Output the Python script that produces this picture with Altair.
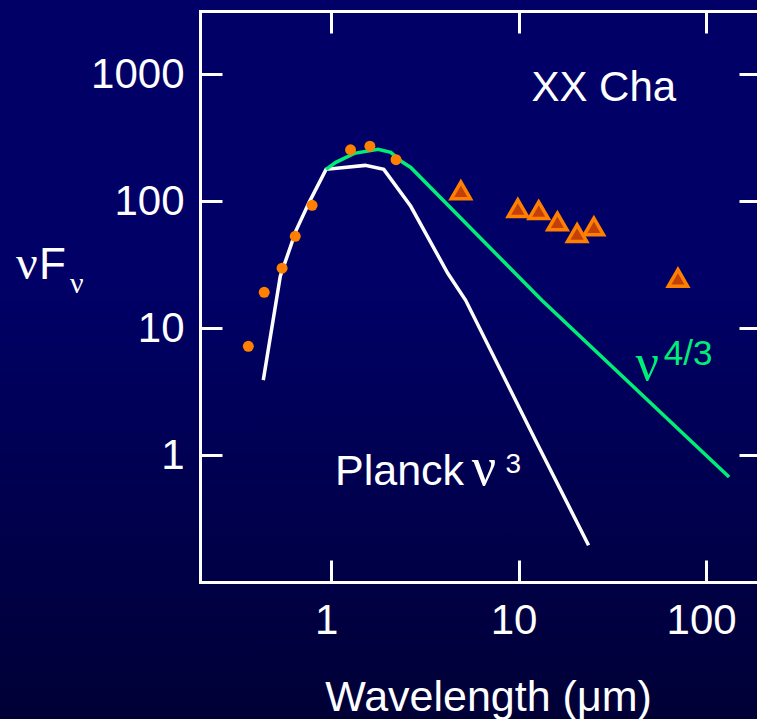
import altair as alt
import pandas as pd

# ---- data ----
dot_wl = [0.362, 0.44, 0.548, 0.644, 0.792, 1.27, 1.61, 2.22]
dot_flux = [7.2, 19.2, 29.7, 53, 93, 255, 272, 213]

tri_wl = [4.92, 9.9, 12.8, 16.1, 20.5, 25.2, 70.7]
tri_flux = [122, 88.4, 85, 69.3, 56.2, 63.3, 24.9]

planck_wl = [0.435, 0.536, 0.651, 0.764, 0.94, 1.52, 1.91, 2.66, 4.19, 5.22, 12.3, 23.6]
planck_flux = [3.9, 25.7, 59.1, 98.2, 178.6, 192, 178.6, 91.4, 27.1, 16.6, 1.31, 0.195]

disk_wl = [0.94, 1.06, 1.33, 1.78, 2.08, 2.41, 2.66, 13.3, 132.5]
disk_flux = [178.6, 203, 239, 257, 243, 203, 185, 16.6, 0.671]

x_ticks = [1, 10, 100]
y_ticks = [1, 10, 100, 1000]

# ---- styling ----
SANS = "Liberation Sans"
SERIF = "Liberation Serif"
WHITE = "#ffffff"
GREEN = "#00ee77"
ORANGE = "#ff8000"
DARK_ORANGE = "#c4400a"

W, H = 557, 571
xscale = alt.Scale(type="log", domain=[0.2, 186.7], nice=False)
yscale = alt.Scale(type="log", domain=[0.1, 3162.3], nice=False)

common_axis = dict(grid=False, labelFlush=False, labelOverlap=False, zindex=1)

ax_x_main = alt.Axis(orient="bottom", values=x_ticks, format="d", ticks=False,
                     domain=True, domainColor=WHITE, domainWidth=3, domainCap="square",
                     labels=True, labelFont=SANS, labelFontSize=42, labelColor=WHITE,
                     labelPadding=18, labelOffset=-5,
                     title="Wavelength (μm)", titleFont=SANS,
                     titleFontSize=43, titleColor=WHITE, titleFontWeight="normal",
                     titleX=288, titleY=128, titleBaseline="alphabetic",
                     titleAlign="center", **common_axis)
ax_x_bticks = alt.Axis(orient="bottom", values=x_ticks, offset=-22, tickSize=22,
                       tickWidth=3, tickColor=WHITE, domain=False, labels=False,
                       title=None, **common_axis)
ax_x_top = alt.Axis(orient="top", values=x_ticks, ticks=False, domain=True,
                    domainColor=WHITE, domainWidth=3, domainCap="square",
                    labels=False, title=None, **common_axis)
ax_x_tticks = alt.Axis(orient="top", values=x_ticks, offset=-22, tickSize=22,
                       tickWidth=3, tickColor=WHITE, domain=False, labels=False,
                       title=None, **common_axis)

ax_y_main = alt.Axis(orient="left", values=y_ticks, format="d", ticks=False,
                     domain=True, domainColor=WHITE, domainWidth=3, domainCap="square",
                     labels=True, labelFont=SANS, labelFontSize=42, labelColor=WHITE,
                     labelPadding=16, title=None, **common_axis)
ax_y_lticks = alt.Axis(orient="left", values=y_ticks, offset=-22, tickSize=22,
                       tickWidth=3, tickColor=WHITE, domain=False, labels=False,
                       title=None, **common_axis)
ax_y_rticks = alt.Axis(orient="right", values=y_ticks, offset=-18, tickSize=18,
                       tickWidth=3, tickColor=WHITE, domain=False, labels=False,
                       title=None, **common_axis)

# ---- background gradient ----
bg = alt.Chart(pd.DataFrame({"a": [0]})).mark_rect(
    fill=alt.LinearGradient(
        gradient="linear",
        stops=[alt.GradientStop(color="#000066", offset=0),
               alt.GradientStop(color="#000066", offset=0.4),
               alt.GradientStop(color="#000036", offset=1)],
        x1=0, x2=0, y1=0, y2=1),
).encode(x=alt.value(-200), x2=alt.value(W), y=alt.value(-11), y2=alt.value(H + 137))

planck_df = pd.DataFrame({"wl": planck_wl, "f": planck_flux})
disk_df = pd.DataFrame({"wl": disk_wl, "f": disk_flux})
dot_df = pd.DataFrame({"wl": dot_wl, "f": dot_flux})
tri_df = pd.DataFrame({"wl": tri_wl, "f": tri_flux})

planck = alt.Chart(planck_df).mark_line(color=WHITE, strokeWidth=3.5).encode(
    x=alt.X("wl:Q", scale=xscale, axis=ax_x_main),
    y=alt.Y("f:Q", scale=yscale, axis=ax_y_main),
    order="wl:Q",
)
disk = alt.Chart(disk_df).mark_line(color=GREEN, strokeWidth=3.5).encode(
    x=alt.X("wl:Q", scale=xscale, axis=ax_x_bticks),
    y=alt.Y("f:Q", scale=yscale, axis=ax_y_lticks),
    order="wl:Q",
)
dots = alt.Chart(dot_df).mark_circle(color=ORANGE, opacity=1, size=120).encode(
    x=alt.X("wl:Q", scale=xscale, axis=ax_x_top),
    y=alt.Y("f:Q", scale=yscale, axis=ax_y_rticks),
)
tris = alt.Chart(tri_df).mark_point(
    shape="triangle-up", filled=True, fill=DARK_ORANGE, stroke=ORANGE,
    strokeWidth=3.5, opacity=1, size=370,
).encode(
    x=alt.X("wl:Q", scale=xscale, axis=ax_x_tticks),
    y=alt.Y("f:Q", scale=yscale, axis=None),
)


def data_text(txt, wl, f, font, size, color):
    return alt.Chart(pd.DataFrame({"wl": [wl], "f": [f]})).mark_text(
        text=txt, font=font, fontSize=size, color=color, align="left",
        baseline="alphabetic",
    ).encode(
        x=alt.X("wl:Q", scale=xscale, axis=None),
        y=alt.Y("f:Q", scale=yscale, axis=None),
    )


def px_text(txt, px, py, font, size, color):
    return alt.Chart(pd.DataFrame({"a": [0]})).mark_text(
        text=txt, font=font, fontSize=size, color=color, align="left",
        baseline="alphabetic",
    ).encode(x=alt.value(px), y=alt.value(py))


labels = [
    data_text("XX Cha", 11.7, 616, SANS, 42, WHITE),
    data_text("Planck", 1.05, 0.58, SANS, 43, WHITE),
    data_text("ν", 5.62, 0.58, SERIF, 54, WHITE),
    data_text("3", 8.5, 0.72, SANS, 28, WHITE),
    data_text("ν", 42.0, 3.9, SERIF, 52, GREEN),
    data_text("4/3", 59.5, 5.11, SANS, 35, GREEN),
    px_text("ν", -184, 268, SERIF, 48, WHITE),
    px_text("F", -161, 268, SANS, 44, WHITE),
    px_text("ν", -130, 282, SERIF, 30, WHITE),
]

chart = alt.layer(bg, planck, disk, dots, tris, *labels).resolve_axis(
    x="independent", y="independent"
).properties(
    width=W, height=H,
    padding={"left": 200, "top": 11, "right": 0, "bottom": 137},
    autosize=alt.AutoSizeParams(type="none"),
    background="#000066",
).configure_view(stroke=None)

chart.save("out.html", embed_options={"renderer": "svg", "actions": False})
